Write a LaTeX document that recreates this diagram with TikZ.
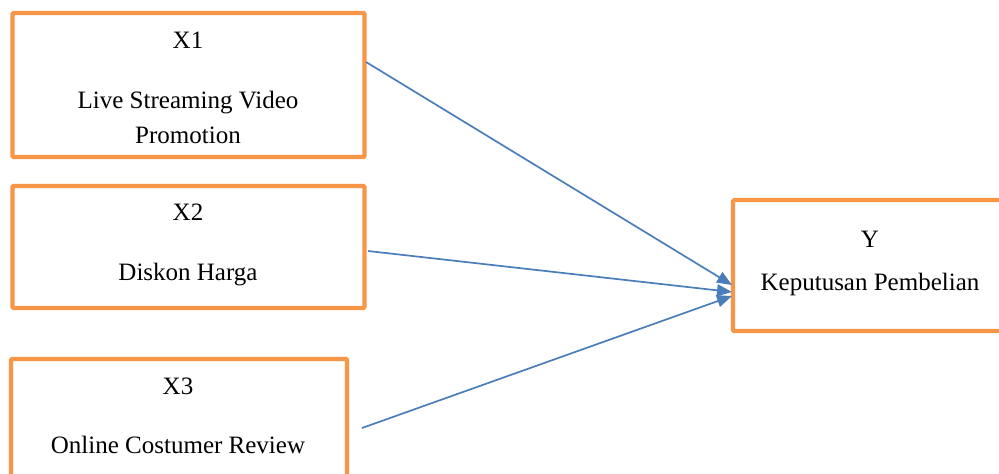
\documentclass[tikz,border=0pt]{standalone}
\usepackage{fontspec}
\setmainfont{Liberation Serif}
\usetikzlibrary{arrows.meta}
\definecolor{boxorange}{HTML}{F79646}
\definecolor{linkblue}{HTML}{4A7EBB}
\tikzset{
  varbox/.style={draw=boxorange, line width=2.1pt, rounded corners=0.6pt,
    inner sep=0pt, fill=none},
  label text/.style={anchor=base, inner sep=0pt,
    font=\rmfamily\fontsize{12.5}{15}\selectfont},
  link/.style={draw=linkblue, line width=0.85pt,
    -{Triangle[length=7.5pt,width=6pt]}}
}
\begin{document}
\begin{tikzpicture}[x=0.5pt, y=-0.5pt]
  \clip (0,0) rectangle (999,473);
  \fill[white] (0,0) rectangle (999,473);

  % independent variable boxes
  \node[varbox, minimum width=176pt, minimum height=72pt] (b1) at (188.5,85) {};
  \node[varbox, minimum width=176pt, minimum height=61pt] (b2) at (188.5,247) {};
  \node[varbox, minimum width=168pt, minimum height=65.5pt] (b3) at (179,424.5) {};
  % dependent variable box
  \node[varbox, minimum width=143.5pt, minimum height=65.5pt] (by) at (876.5,265.5) {};

  % box texts
  \node[label text] (t1a) at (188,48) {X1};
  \node[label text] (t1b) at (188,108) {Live Streaming Video};
  \node[label text] (t1c) at (188,143) {Promotion};
  \node[label text] (t2a) at (188,220) {X2};
  \node[label text] (t2b) at (188,280) {Diskon Harga};
  \node[label text] (t3a) at (178,394) {X3};
  \node[label text] (t3b) at (178,453) {Online Costumer Review};
  \node[label text] (tya) at (870,247) {Y};
  \node[label text] (tyb) at (870,290) {Keputusan Pembelian};

  % connector end points
  \coordinate (s1) at (366,62);
  \coordinate (s2) at (368,251);
  \coordinate (s3) at (362,428);
  \coordinate (e1) at (732,285);
  \coordinate (e2) at (732,292);
  \coordinate (e3) at (732,296);

  \draw[link] (s1) -- (e1);
  \draw[link] (s2) -- (e2);
  \draw[link] (s3) -- (e3);
\end{tikzpicture}
\end{document}
